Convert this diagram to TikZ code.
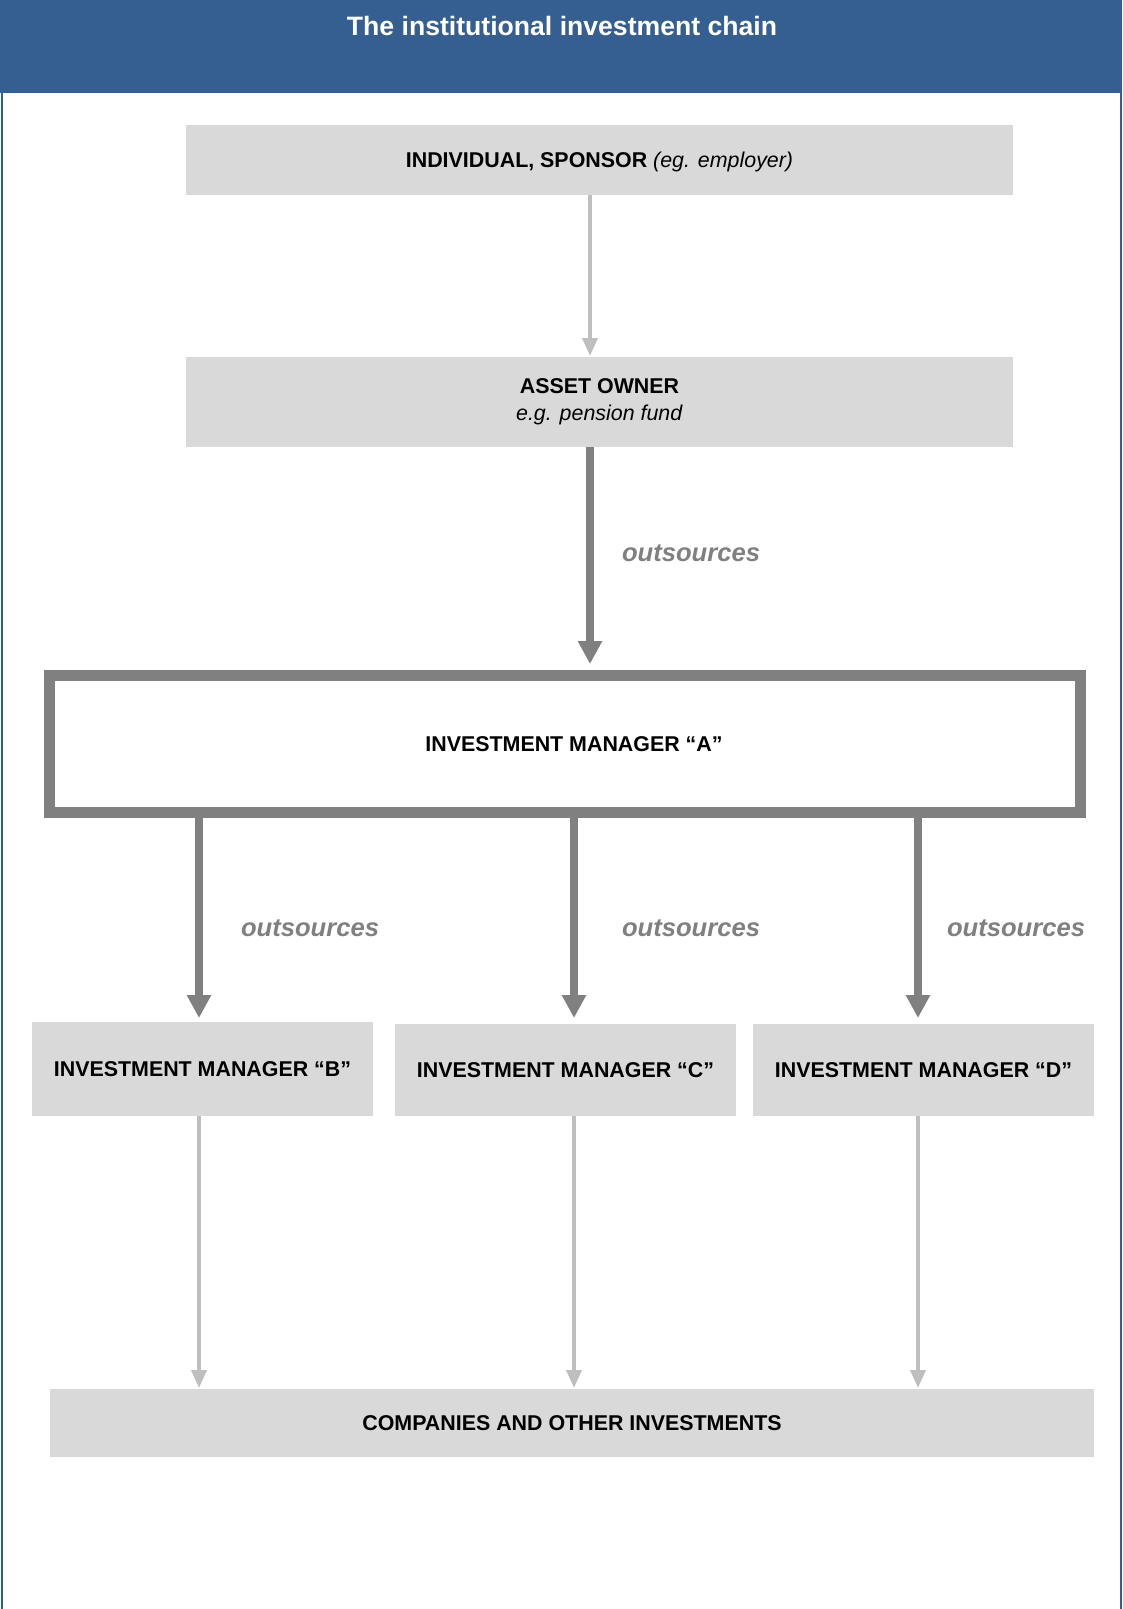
\documentclass[tikz,border=0pt]{standalone}
\usepackage{fontspec}
\setmainfont{Liberation Sans}
\usetikzlibrary{arrows.meta}
\definecolor{hdrblue}{HTML}{365F91}
\definecolor{boxgray}{HTML}{D9D9D9}
\definecolor{darkarrow}{HTML}{808080}
\definecolor{lightarrow}{HTML}{BFBFBF}
\begin{document}
\begin{tikzpicture}[x=1pt,y=-1pt,
 graybox/.style={fill=boxgray, draw=none, inner sep=0pt, outer sep=0pt, align=center, font=\fontsize{21.4}{27}\selectfont},
 oneline/.style={text height=15.3pt, text depth=0pt},
 boxtext/.style={inner sep=0pt, outer sep=0pt, align=center, font=\fontsize{21.4}{27}\selectfont},
 thickarrow/.style={draw=darkarrow, line width=7.3pt, -{Triangle[width=23pt,length=23pt]}},
 thinarrow/.style={draw=lightarrow, line width=3.7pt, -{Triangle[width=15pt,length=18pt]}},
 outlabel/.style={text=darkarrow, inner sep=0pt, font=\fontsize{25.6}{30}\selectfont\bfseries\itshape}]
\useasboundingbox (0,0) rectangle (1122,1609);
% header and frame
\fill[hdrblue] (0,0) rectangle (1122,92.5);
\draw[hdrblue, line width=2pt] (2,0) -- (2,1609);
\draw[hdrblue, line width=2pt] (1120.5,0) -- (1120.5,1609);
\node[text=white, inner sep=0pt, font=\fontsize{26.6}{30}\selectfont\bfseries] (title) at (562,26) {The institutional investment chain};
% x positions of connectors
\coordinate (xm) at (590,0);
\coordinate (xB) at (199,0);
\coordinate (xC) at (574,0);
\coordinate (xD) at (918,0);
% boxes
\node[graybox, oneline, minimum width=827pt, minimum height=70pt] (box1) at (599.5,160) {\textbf{INDIVIDUAL, SPONSOR} \textit{(eg. employer)}};
\node[graybox, minimum width=827pt, minimum height=89.5pt] (box2) at (599.5,401.75) {\raisebox{-2pt}{\begin{tabular}{@{}c@{}}\textbf{ASSET OWNER}\\[0.5pt]\textit{e.g. pension fund}\end{tabular}}};
\node[draw=darkarrow, line width=11pt, fill=white, minimum width=1031pt, minimum height=137pt, inner sep=0pt, outer sep=0pt] (A) at (565,744) {};
\node[boxtext, oneline] (Atext) at (574,744) {\textbf{INVESTMENT MANAGER “A”}};
\node[graybox, oneline, minimum width=341pt, minimum height=94pt] (B) at (202.5,1069) {\textbf{INVESTMENT MANAGER “B”}};
\node[graybox, oneline, minimum width=341pt, minimum height=92pt] (C) at (565.5,1070) {\textbf{INVESTMENT MANAGER “C”}};
\node[graybox, oneline, minimum width=341pt, minimum height=92pt] (D) at (923.5,1070) {\textbf{INVESTMENT MANAGER “D”}};
\node[graybox, oneline, minimum width=1044pt, minimum height=68pt] (bottom) at (572,1423) {\textbf{COMPANIES AND OTHER INVESTMENTS}};
% connectors
\draw[thinarrow, shorten >=1pt] (box1.south -| xm) -- (box2.north -| xm);
\draw[thickarrow, shorten >=11.5pt] (box2.south -| xm) -- (A.north -| xm);
\draw[thickarrow, shorten <=5.5pt, shorten >=4pt] (A.south -| xB) -- (B.north -| xB);
\draw[thickarrow, shorten <=5.5pt, shorten >=6pt] (A.south -| xC) -- (C.north -| xC);
\draw[thickarrow, shorten <=5.5pt, shorten >=6pt] (A.south -| xD) -- (D.north -| xD);
\draw[thinarrow, shorten >=1pt] (B.south -| xB) -- (bottom.north -| xB);
\draw[thinarrow, shorten >=1pt] (C.south -| xC) -- (bottom.north -| xC);
\draw[thinarrow, shorten >=1pt] (D.south -| xD) -- (bottom.north -| xD);
% labels
\node[outlabel] (lab1) at (691,553) {outsources};
\node[outlabel] (lab2) at (310,928) {outsources};
\node[outlabel] (lab3) at (691,928) {outsources};
\node[outlabel] (lab4) at (1016,928) {outsources};
\end{tikzpicture}
\end{document}
